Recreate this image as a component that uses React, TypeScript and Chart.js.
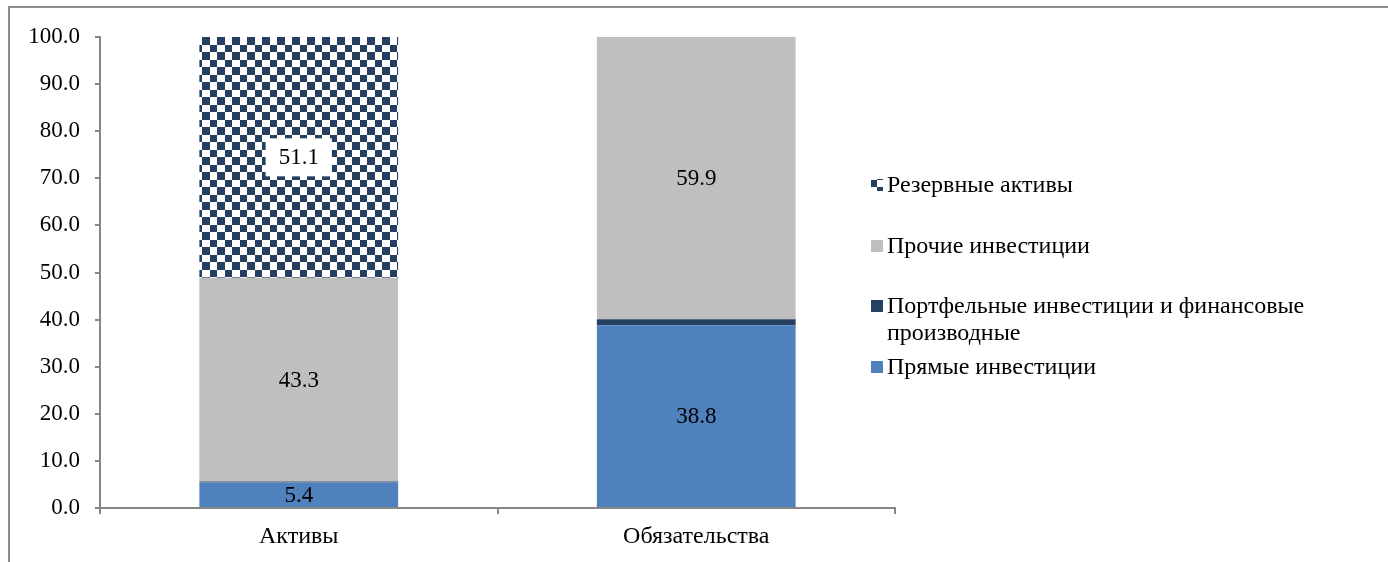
import React, { useEffect, useRef } from "react";
import { Chart, registerables } from "chart.js";

Chart.register(...registerables);

const categories = ["Активы", "Обязательства"];
const seriesNames = [
  "Прямые инвестиции",
  "Портфельные инвестиции и финансовые производные",
  "Прочие инвестиции",
  "Резервные активы",
];
const legendLines = [
  ["Прямые инвестиции"],
  ["Портфельные инвестиции и финансовые", "производные"],
  ["Прочие инвестиции"],
  ["Резервные активы"],
];
const directInv = [5.4, 38.8];
const portfolioInv = [0.2, 1.3];
const otherInv = [43.3, 59.9];
const reserveAssets = [51.1, 0];
const yTicks = [0, 10, 20, 30, 40, 50, 60, 70, 80, 90, 100];

const FONT = "'Liberation Serif', 'Times New Roman', serif";
const FS = 23;
const FS_TEXT = 24;
const AXIS = "#868686";

function makeChecker(): CanvasPattern | string {
  const c = document.createElement("canvas");
  c.width = 15;
  c.height = 15;
  const g = c.getContext("2d");
  if (!g) return "#243F60";
  g.fillStyle = "#FFFFFF";
  g.fillRect(0, 0, 15, 15);
  g.fillStyle = "#243F60";
  g.fillRect(0, 0, 7, 7);
  g.fillRect(7, 7, 8, 8);
  return g.createPattern(c, "repeat") || "#243F60";
}

export default function App() {
  const ref = useRef<HTMLCanvasElement | null>(null);

  useEffect(() => {
    const canvas = ref.current;
    if (!canvas) return;
    const checker = makeChecker();

    const framePlugin = {
      id: "frame",
      beforeDraw(chart: any) {
        const ctx = chart.ctx;
        ctx.save();
        ctx.strokeStyle = "#8C8C8C";
        ctx.lineWidth = 2;
        ctx.beginPath();
        ctx.moveTo(9, 562);
        ctx.lineTo(9, 7);
        ctx.lineTo(1388, 7);
        ctx.stroke();
        ctx.restore();
      },
    };

    const labelPlugin = {
      id: "segLabels",
      afterDatasetsDraw(chart: any) {
        const ctx = chart.ctx;
        ctx.save();
        ctx.font = `${FS}px ${FONT}`;
        ctx.textAlign = "center";
        ctx.textBaseline = "middle";
        chart.data.datasets.forEach((ds: any, di: number) => {
          const meta = chart.getDatasetMeta(di);
          meta.data.forEach((bar: any, i: number) => {
            const v = ds.data[i];
            if (!v || v < 3) return;
            const txt = v.toFixed(1);
            const cy = (bar.y + bar.base) / 2;
            if (ds.labelBox) {
              const w = ctx.measureText(txt).width;
              ctx.fillStyle = "#FFFFFF";
              ctx.fillRect(bar.x - w / 2 - 13, cy - 19, w + 26, 38);
            }
            ctx.fillStyle = "#000000";
            ctx.fillText(txt, bar.x, cy + 1);
          });
        });
        ctx.restore();
      },
    };

    const legendPlugin = {
      id: "customLegend",
      afterDraw(chart: any) {
        const ctx = chart.ctx;
        const ys = [367, 306, 246, 185];
        ctx.save();
        ctx.font = `${FS_TEXT}px ${FONT}`;
        ctx.textAlign = "left";
        ctx.textBaseline = "middle";
        chart.data.datasets.forEach((ds: any, di: number) => {
          const y = ys[di];
          ctx.fillStyle = ds.backgroundColor;
          ctx.fillRect(871, y - 6, 12, 12);
          ctx.fillStyle = "#000000";
          legendLines[di].forEach((line: string, li: number) => {
            ctx.fillText(line, 887, y + 1 + li * 27);
          });
        });
        ctx.restore();
      },
    };

    const chart = new Chart(canvas, {
      type: "bar",
      data: {
        labels: categories,
        datasets: [
          { label: seriesNames[0], data: directInv, backgroundColor: "#4F81BD", barPercentage: 0.5, categoryPercentage: 1 },
          { label: seriesNames[1], data: portfolioInv, backgroundColor: "#254061", barPercentage: 0.5, categoryPercentage: 1 },
          { label: seriesNames[2], data: otherInv, backgroundColor: "#BFBFBF", barPercentage: 0.5, categoryPercentage: 1 },
          { label: seriesNames[3], data: reserveAssets, backgroundColor: checker as any, barPercentage: 0.5, categoryPercentage: 1, labelBox: true } as any,
        ],
      },
      options: {
        responsive: false,
        animation: false,
        layout: { padding: { left: 0, right: 493, top: 37, bottom: 0 } },
        plugins: {
          legend: { display: false },
          tooltip: { enabled: false },
          title: { display: false },
        },
        scales: {
          x: {
            stacked: true,
            offset: true,
            grid: { display: true, offset: true, drawOnChartArea: false, tickLength: 6, color: AXIS, lineWidth: 2 },
            border: { display: true, color: AXIS, width: 2 },
            ticks: { color: "#000000", font: { family: FONT, size: FS_TEXT }, padding: 8 },
            afterFit(scale: any) {
              scale.height = 54;
            },
          },
          y: {
            stacked: true,
            min: 0,
            max: 100,
            afterBuildTicks(scale: any) {
              scale.ticks = yTicks.map((v) => ({ value: v }));
            },
            grid: { display: true, drawOnChartArea: false, tickLength: 5, color: AXIS, lineWidth: 2 },
            border: { display: true, color: AXIS, width: 2 },
            ticks: {
              color: "#000000",
              font: { family: FONT, size: FS },
              padding: 15,
              callback: (v: any) => Number(v).toFixed(1),
            },
            afterFit(scale: any) {
              scale.width = 100;
            },
          },
        },
      },
      plugins: [framePlugin, labelPlugin, legendPlugin],
    });

    return () => chart.destroy();
  }, []);

  return (
    <div style={{ position: "absolute", left: 0, top: 0, width: 1388, height: 562, background: "#FFFFFF" }}>
      <canvas ref={ref} width={1388} height={562} style={{ display: "block" }} />
    </div>
  );
}
